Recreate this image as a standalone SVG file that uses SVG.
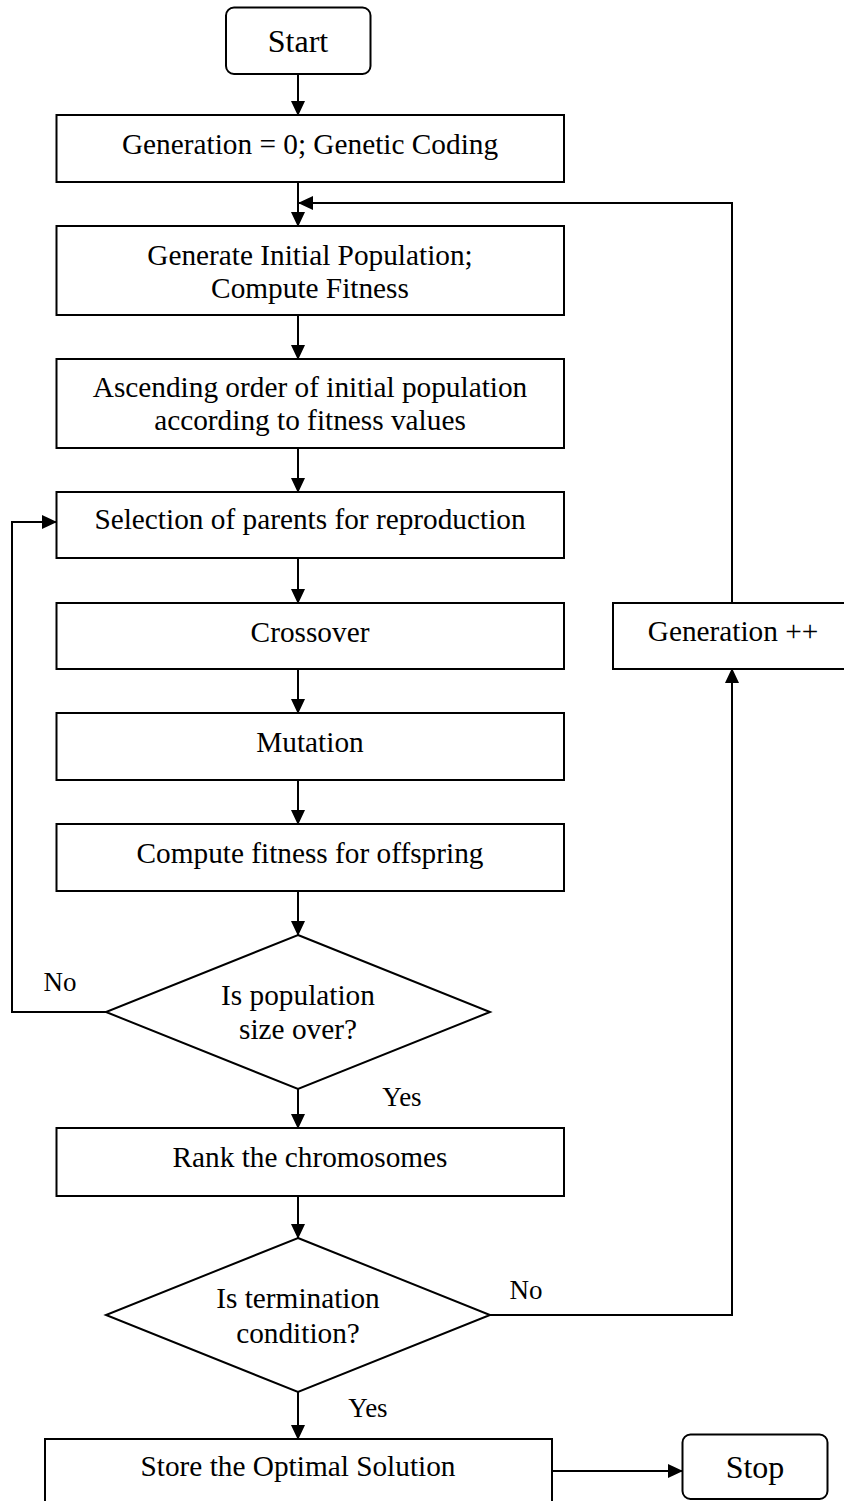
<svg xmlns="http://www.w3.org/2000/svg" width="844" height="1501" viewBox="0 0 844 1501">
<style>
  .box { fill: #ffffff; stroke: #000000; stroke-width: 2; }
  .term { fill: #ffffff; stroke: #000000; stroke-width: 2; }
  .dia { fill: #ffffff; stroke: #000000; stroke-width: 2; }
  .t { font-family: "Liberation Serif", "Times New Roman", serif; font-size: 29.3px; fill: #000000; text-anchor: middle; }
  .tb { font-family: "Liberation Serif", "Times New Roman", serif; font-size: 32px; fill: #000000; text-anchor: middle; }
  .lbl { font-family: "Liberation Serif", "Times New Roman", serif; font-size: 27px; fill: #000000; text-anchor: middle; }
  .c { fill: none; stroke: #000000; stroke-width: 2; marker-end: url(#ah); }
  .cn { fill: none; stroke: #000000; stroke-width: 2; }
</style>
<defs>
  <marker id="ah" markerUnits="userSpaceOnUse" markerWidth="15" markerHeight="14" refX="14" refY="7" orient="auto">
    <path d="M0,0 L15,7 L0,14 z" fill="#000000"/>
  </marker>
</defs>
<rect width="844" height="1501" fill="#ffffff"/>

<g id="connectors">
  <path class="c" d="M298,74 L298,115"/>
  <path class="c" d="M298,182 L298,226"/>
  <path class="c" d="M732,603 L732,203 L299,203"/>
  <path class="c" d="M298,315 L298,359"/>
  <path class="c" d="M298,448 L298,492"/>
  <path class="c" d="M298,558 L298,603"/>
  <path class="c" d="M298,669 L298,713"/>
  <path class="c" d="M298,780 L298,824"/>
  <path class="c" d="M298,891 L298,935"/>
  <path class="c" d="M106,1012 L12,1012 L12,522 L56,522"/>
  <path class="c" d="M298,1089 L298,1128"/>
  <path class="c" d="M298,1196 L298,1238"/>
  <path class="c" d="M490,1315 L732,1315 L732,669"/>
  <path class="c" d="M298,1392 L298,1439"/>
  <path class="c" d="M552,1471 L682,1471"/>
  <text class="lbl" x="60" y="991">No</text>
  <text class="lbl" x="402" y="1106">Yes</text>
  <text class="lbl" x="526" y="1299">No</text>
  <text class="lbl" x="368" y="1417">Yes</text>
</g>

<g id="start">
  <rect class="term" x="226" y="7.5" width="144.5" height="66.5" rx="8"/>
  <text class="tb" x="298" y="52">Start</text>
</g>

<g id="gen0">
  <rect class="box" x="56.5" y="115" width="507.5" height="67"/>
  <text class="t" x="310" y="154">Generation = 0; Genetic Coding</text>
</g>

<g id="initpop">
  <rect class="box" x="56.5" y="226" width="507.5" height="89"/>
  <text class="t" x="310" y="265">Generate Initial Population;</text>
  <text class="t" x="310" y="298">Compute Fitness</text>
</g>

<g id="ascending">
  <rect class="box" x="56.5" y="359" width="507.5" height="89"/>
  <text class="t" x="310" y="397">Ascending order of initial population</text>
  <text class="t" x="310" y="430">according to fitness values</text>
</g>

<g id="selection">
  <rect class="box" x="56.5" y="492" width="507.5" height="66"/>
  <text class="t" x="310" y="529">Selection of parents for reproduction</text>
</g>

<g id="crossover">
  <rect class="box" x="56.5" y="603" width="507.5" height="66"/>
  <text class="t" x="310" y="642">Crossover</text>
</g>

<g id="mutation">
  <rect class="box" x="56.5" y="713" width="507.5" height="67"/>
  <text class="t" x="310" y="752">Mutation</text>
</g>

<g id="fitness">
  <rect class="box" x="56.5" y="824" width="507.5" height="67"/>
  <text class="t" x="310" y="863">Compute fitness for offspring</text>
</g>

<g id="popsize">
  <polygon class="dia" points="298,935 490,1012 298,1089 106,1012"/>
  <text class="t" x="298" y="1005">Is population</text>
  <text class="t" x="298" y="1039">size over?</text>
</g>

<g id="rank">
  <rect class="box" x="56.5" y="1128" width="507.5" height="68"/>
  <text class="t" x="310" y="1167">Rank the chromosomes</text>
</g>

<g id="termination">
  <polygon class="dia" points="298,1238 490,1315 298,1392 106,1315"/>
  <text class="t" x="298" y="1308">Is termination</text>
  <text class="t" x="298" y="1343">condition?</text>
</g>

<g id="genplus">
  <rect class="box" x="613" y="603" width="240" height="66"/>
  <text class="t" x="733" y="641">Generation ++</text>
</g>

<g id="store">
  <rect class="box" x="45" y="1439" width="507" height="70"/>
  <text class="t" x="298" y="1476">Store the Optimal Solution</text>
</g>

<g id="stop">
  <rect class="term" x="682.5" y="1434.5" width="145" height="64.5" rx="8"/>
  <text class="tb" x="755" y="1478">Stop</text>
</g>
</svg>
